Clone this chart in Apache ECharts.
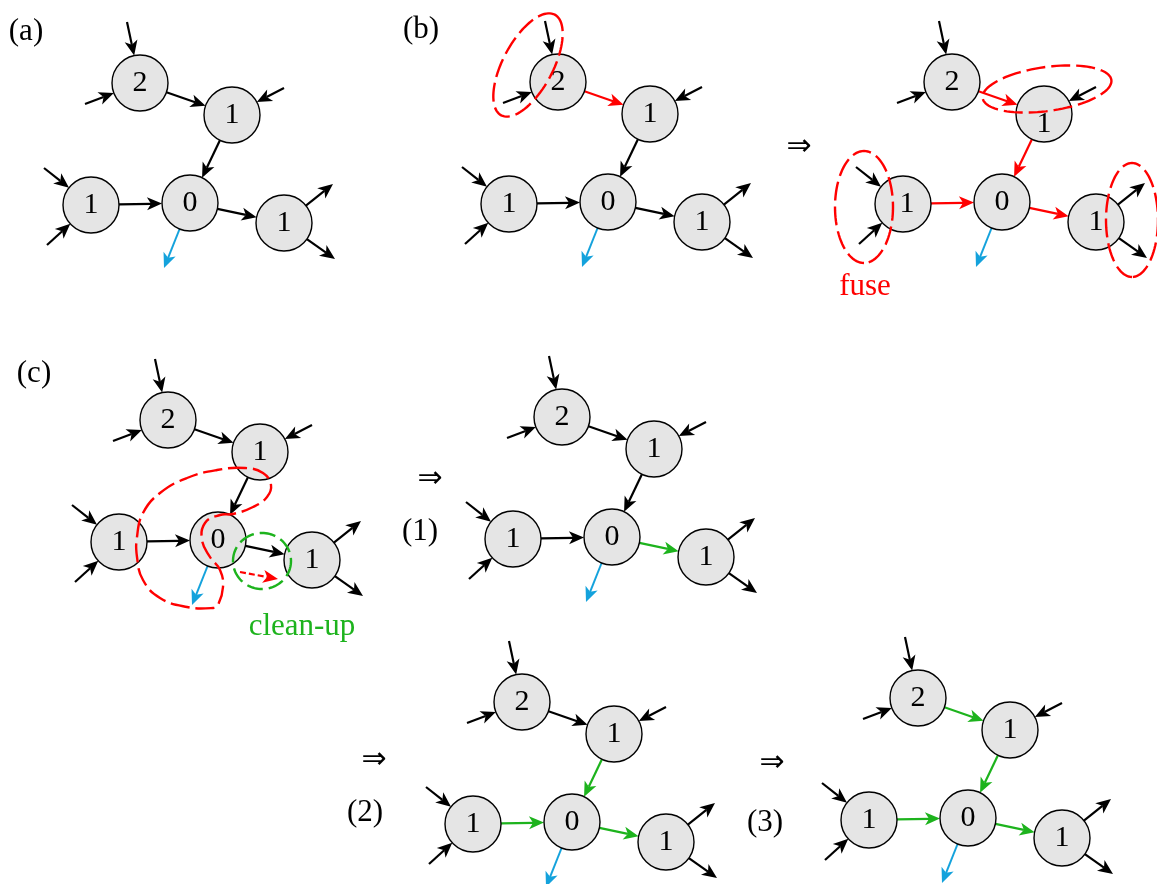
<!DOCTYPE html>
<html><head><meta charset="utf-8">
<script src="https://cdn.jsdelivr.net/npm/echarts/dist/echarts.min.js"></script>
<style>html,body{margin:0;padding:0;background:#fff}#c{width:1157px;height:884px}</style>
</head><body><div id="c"></div>
<script>
// ---- base graph (offsets relative to node "0") ----
const nodeLabels = ['0', '2', '1', '1', '1'];
const nodeDX = [0, -50, 42, -99, 94];
const nodeDY = [0, -120, -88, 2, 20];
// directed edges between nodes
const edgeFrom = [1, 2, 3, 0];
const edgeTo = [2, 0, 0, 4];
// incoming stub arrows (outer start point, target node)
const stubInDX = [-63, -105, 94, -146, -143];
const stubInDY = [-181, -99, -115, -35, 42];
const stubInNode = [1, 1, 2, 3, 3];
// outgoing stub arrows (source node, outer end point)
const stubOutDX = [143, 145, -26];
const stubOutDY = [-19, 56, 65];
const stubOutNode = [4, 4, 0];
const stubOutKind = ['k', 'k', 'b'];
// panels: position of node "0" and colour of the four edges
const panelX = [190, 608, 1002, 218, 612, 572, 968];
const panelY = [203, 202, 202, 540, 537, 822, 818];
const panelEdgeColors = [
  ['k','k','k','k'], ['r','k','k','k'], ['r','r','r','r'],
  ['k','k','k','k'], ['k','k','k','g'], ['k','g','g','g'], ['g','g','g','g']
];
// dotted clean-up arrow in panel (c), relative to node "0"
const cleanArrowDX = [22, 60];
const cleanArrowDY = [32, 39];
// dashed ellipses (centre, semi-axes, rotation in degrees)
const ellCX = [528, 1047, 864, 1132, 262];
const ellCY = [65, 89, 207, 220, 561];
const ellA = [57, 65, 56, 57, 29];
const ellB = [25, 22, 29, 26, 28];
const ellAngle = [-62, -8, 90, 90, 0];
const ellColor = ['r', 'r', 'r', 'r', 'g'];
// dashed loop in panel (c)
const loopX = [233, 220, 205, 202, 210, 220, 223, 218, 213, 187, 160, 143, 137, 137, 143, 160, 187, 217, 245, 263, 271, 267, 253];
const loopY = [514, 515, 523, 540, 557, 570, 587, 605, 608, 607, 598, 580, 557, 537, 513, 493, 478, 470, 468, 473, 485, 497, 507];
// text labels
const labelText = ['(a)', '(b)', '\u21D2', 'fuse', '(c)', 'clean-up', '\u21D2', '(1)', '\u21D2', '(2)', '\u21D2', '(3)'];
const labelX = [26, 421, 799, 865, 34, 302, 430, 420, 374, 365, 772, 765];
const labelY = [32, 30, 147, 287, 374, 627, 479, 532, 760, 813, 763, 823];
const labelColor = ['k','k','k','r','k','g','k','k','k','k','k','k'];

const R = 28;
const COLORS = {k: '#000000', r: '#ff0000', g: '#1db31d', b: '#14a2dc'};

// ---- build mark lists ----
const nodeData = [];
for (let p = 0; p < panelX.length; p++) {
  for (let n = 0; n < nodeLabels.length; n++) {
    const item = {value: [panelX[p] + nodeDX[n], panelY[p] + nodeDY[n]], name: nodeLabels[n]};
    if (p === 2 && n === 2) item.label = {offset: [0, 10]};
    if (p === 2 && n === 3) item.label = {offset: [4, 0]};
    nodeData.push(item);
  }
}
const arrowData = [], arrowMeta = [];
function addArrow(x1, y1, x2, y2, s1, s2, color, dashed) {
  arrowData.push([x1, y1, x2, y2]);
  arrowMeta.push({s1: s1, s2: s2, color: color, dashed: !!dashed});
}
for (let p = 0; p < panelX.length; p++) {
  const ox = panelX[p], oy = panelY[p];
  for (let e = 0; e < edgeFrom.length; e++) {
    const f = edgeFrom[e], t = edgeTo[e];
    addArrow(ox + nodeDX[f], oy + nodeDY[f], ox + nodeDX[t], oy + nodeDY[t], R, R, panelEdgeColors[p][e]);
  }
  for (let s = 0; s < stubInDX.length; s++) {
    const t = stubInNode[s];
    addArrow(ox + stubInDX[s], oy + stubInDY[s], ox + nodeDX[t], oy + nodeDY[t], 0, R, 'k');
  }
  for (let s = 0; s < stubOutDX.length; s++) {
    const f = stubOutNode[s];
    addArrow(ox + nodeDX[f], oy + nodeDY[f], ox + stubOutDX[s], oy + stubOutDY[s], R, 0, stubOutKind[s]);
  }
}
addArrow(panelX[3] + cleanArrowDX[0], panelY[3] + cleanArrowDY[0], panelX[3] + cleanArrowDX[1], panelY[3] + cleanArrowDY[1], 0, 0, 'r', true);

const ellData = ellCX.map((x, i) => [x, ellCY[i]]);
const labelData = labelX.map((x, i) => [x, labelY[i]]);

const chart = echarts.init(document.getElementById('c'), null, {renderer: 'canvas'});
chart.setOption({
  animation: false,
  backgroundColor: '#ffffff',
  grid: {left: 0, right: 0, top: 0, bottom: 0},
  xAxis: {type: 'value', min: 0, max: 1157, show: false},
  yAxis: {type: 'value', min: 0, max: 884, inverse: true, show: false},
  series: [
    {
      type: 'custom', z: 1, clip: false,
      data: arrowData,
      renderItem: function (params, api) {
        const m = arrowMeta[params.dataIndex];
        const a = api.coord([api.value(0), api.value(1)]);
        const b = api.coord([api.value(2), api.value(3)]);
        const dx = b[0] - a[0], dy = b[1] - a[1];
        const L = Math.hypot(dx, dy), ux = dx / L, uy = dy / L;
        const p1 = [a[0] + ux * m.s1, a[1] + uy * m.s1];
        const p2 = [b[0] - ux * m.s2, b[1] - uy * m.s2];
        const hl = 15, hw = 6.5, nx = -uy, ny = ux;
        const back = [p2[0] - ux * hl, p2[1] - uy * hl];
        const notch = [p2[0] - ux * (hl - 4), p2[1] - uy * (hl - 4)];
        const col = COLORS[m.color];
        return {
          type: 'group',
          children: [
            {type: 'line', shape: {x1: p1[0], y1: p1[1], x2: notch[0], y2: notch[1]},
             style: {stroke: col, lineWidth: m.color === 'b' ? 2 : 2.2, lineDash: m.dashed ? [6, 3] : null}},
            {type: 'polygon', shape: {points: [p2, [back[0] + nx * hw, back[1] + ny * hw], notch, [back[0] - nx * hw, back[1] - ny * hw]]},
             style: {fill: col}}
          ]
        };
      }
    },
    {
      type: 'scatter', z: 2,
      symbol: 'circle', symbolSize: 56,
      data: nodeData,
      itemStyle: {color: '#e5e5e5', borderColor: '#000000', borderWidth: 1.4, opacity: 1},
      label: {show: true, position: 'inside', formatter: '{b}', color: '#000', fontSize: 30, fontFamily: 'Liberation Serif'},
      emphasis: {disabled: true}
    },
    {
      type: 'custom', z: 3, clip: false,
      data: ellData,
      renderItem: function (params, api) {
        const i = params.dataIndex;
        const th = ellAngle[i] * Math.PI / 180;
        const pts = [];
        for (let k = 0; k < 96; k++) {
          const t = k / 96 * Math.PI * 2;
          const ex = ellA[i] * Math.cos(t), ey = ellB[i] * Math.sin(t);
          pts.push(api.coord([api.value(0) + ex * Math.cos(th) - ey * Math.sin(th),
                              api.value(1) + ex * Math.sin(th) + ey * Math.cos(th)]));
        }
        return {type: 'polygon', shape: {points: pts},
                style: {fill: null, stroke: COLORS[ellColor[i]], lineWidth: 2.4,
                        lineDash: ellColor[i] === 'g' ? [16, 6] : [19, 6]}};
      }
    },
    {
      type: 'custom', z: 3, clip: false,
      data: [[loopX[0], loopY[0]]],
      renderItem: function (params, api) {
        const pts = loopX.map((x, i) => api.coord([x, loopY[i]]));
        return {type: 'polygon', shape: {points: pts, smooth: 0.45},
                style: {fill: null, stroke: COLORS.r, lineWidth: 2.4, lineDash: [19, 6]}};
      }
    },
    {
      type: 'custom', z: 4, clip: false,
      data: labelData,
      renderItem: function (params, api) {
        const i = params.dataIndex;
        const c = api.coord([api.value(0), api.value(1)]);
        const arrow = labelText[i] === '\u21D2';
        return {type: 'text', x: c[0], y: c[1],
                style: {text: labelText[i], fill: COLORS[labelColor[i]],
                        font: arrow ? '30px "DejaVu Sans"' : '31px "Liberation Serif"',
                        align: 'center', verticalAlign: 'middle'}};
      }
    }
  ]
});
</script>
</body></html>
